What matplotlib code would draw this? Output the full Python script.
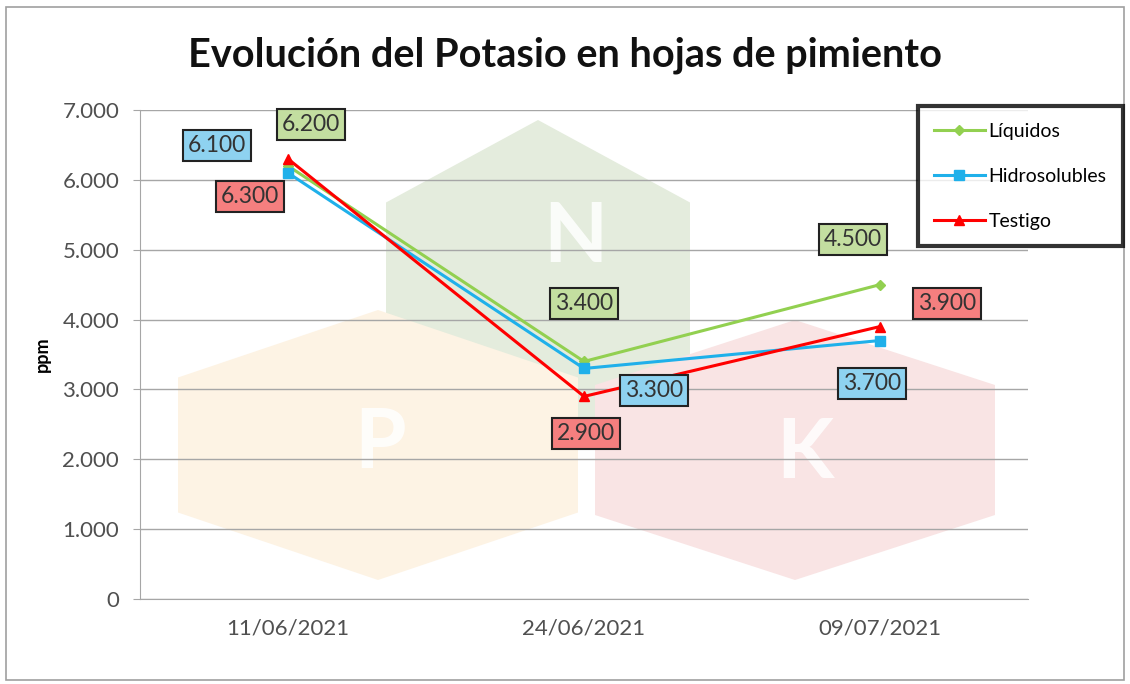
import matplotlib.pyplot as plt
from matplotlib.patches import Polygon, Rectangle
from matplotlib.ticker import FuncFormatter

# ---------------------------------------------------------------
fechas = ['11/06/2021', '24/06/2021', '09/07/2021']
liquidos = [6200, 3400, 4500]
hidrosolubles = [6100, 3300, 3700]
testigo = [6300, 2900, 3900]

series = [
    ('Líquidos', liquidos, '#92d050', 'D', '#c3dea0'),
    ('Hidrosolubles', hidrosolubles, '#1fb0ea', 's', '#8ed2f0'),
    ('Testigo', testigo, '#ff0000', '^', '#f57f7f'),
]
# label offsets in pixels (dx, dy)
offsets = {
    'Líquidos': [(23, 41), (0, 58), (-27, 45)],
    'Hidrosolubles': [(-71, 27), (70, -22), (-8, -43)],
    'Testigo': [(-38, -38), (2, -37), (67, 23)],
}

plt.rcParams['font.family'] = ['Lato', 'DejaVu Sans']
W, H = 1130, 684
fig = plt.figure(figsize=(W / 100, H / 100), dpi=100)

def fx(px): return px / W
def fy(py): return 1 - py / H

# background layer in pixel coordinates
bg = fig.add_axes([0, 0, 1, 1], zorder=-1)
bg.set_xlim(0, W)
bg.set_ylim(H, 0)
bg.axis('off')
bg.add_patch(Rectangle((6, 7), 1118, 673, fill=False, edgecolor='#a0a0a0', linewidth=1.2))

# NPK watermark hexagons
def hexagon(cx, cy, rx, ry, color, letter, lx, ly):
    pts = [(cx, cy - ry), (cx + rx, cy - ry / 2), (cx + rx, cy + ry / 2),
           (cx, cy + ry), (cx - rx, cy + ry / 2), (cx - rx, cy - ry / 2)]
    bg.add_patch(Polygon(pts, closed=True, facecolor=color, edgecolor='none'))
    bg.text(lx, ly, letter, color='white', fontsize=60, fontweight='bold',
            ha='center', va='center', alpha=0.85)

hexagon(538, 285, 152, 165, '#e4ecdd', 'N', 575, 238)
hexagon(378, 445, 200, 135, '#fdf3e4', 'P', 380, 445)
hexagon(795, 450, 200, 130, '#f9e4e4', 'K', 805, 455)

ax = fig.add_axes([fx(140), fy(599), fx(1028) - fx(140), fy(110) - fy(599)], zorder=1)
ax.patch.set_alpha(0)
x = range(len(fechas))

for name, vals, col, mk, box in series:
    ax.plot(x, vals, color=col, linewidth=2.2, marker=mk,
            markersize=7 if mk != 'D' else 5, label=name, zorder=3)
    for i, v in enumerate(vals):
        dx, dy = offsets[name][i]
        ax.annotate(f'{v:,}'.replace(',', '.'), (i, v),
                    xytext=(dx * 0.72, dy * 0.72), textcoords='offset points',
                    ha='center', va='center', fontsize=16.5, color='#333333',
                    bbox=dict(boxstyle='square,pad=0.22', facecolor=box,
                              edgecolor='#222222', linewidth=1.5), zorder=4)

ax.set_xlim(-0.5, 2.5)
ax.set_ylim(0, 7000)
ax.set_xticks(list(x))
ax.set_xticklabels(fechas, fontsize=16, color='#505050')
ax.set_yticks(range(0, 7001, 1000))
ax.yaxis.set_major_formatter(FuncFormatter(lambda v, p: f'{int(v):,}'.replace(',', '.')))
ax.tick_params(axis='y', labelsize=16, labelcolor='#505050', length=5, color='#a6a6a6', pad=10)
ax.tick_params(axis='x', length=0, pad=14)
ax.grid(axis='y', color='#a6a6a6', linewidth=1)
ax.set_axisbelow(True)
for s in ['top', 'right']:
    ax.spines[s].set_visible(False)
for s in ['left', 'bottom']:
    ax.spines[s].set_color('#a6a6a6')
ax.set_ylabel('ppm', fontsize=13, fontweight='bold')
ax.yaxis.set_label_coords(-0.1, 0.5)

fig.text(0.5, fy(55), 'Evolución del Potasio en hojas de pimiento', ha='center', va='center',
         fontsize=28.5, fontweight='bold', color='#111111')

leg = fig.legend(loc='upper right', bbox_to_anchor=(fx(1123), fy(106)), fontsize=14,
                 frameon=True, fancybox=False, labelspacing=1.45, handlelength=2.6,
                 handletextpad=0.2, borderpad=0.85, borderaxespad=0)
leg.get_frame().set_edgecolor('black')
leg.get_frame().set_linewidth(3)
leg.set_zorder(5)

fig.savefig('out.png', dpi=100)
